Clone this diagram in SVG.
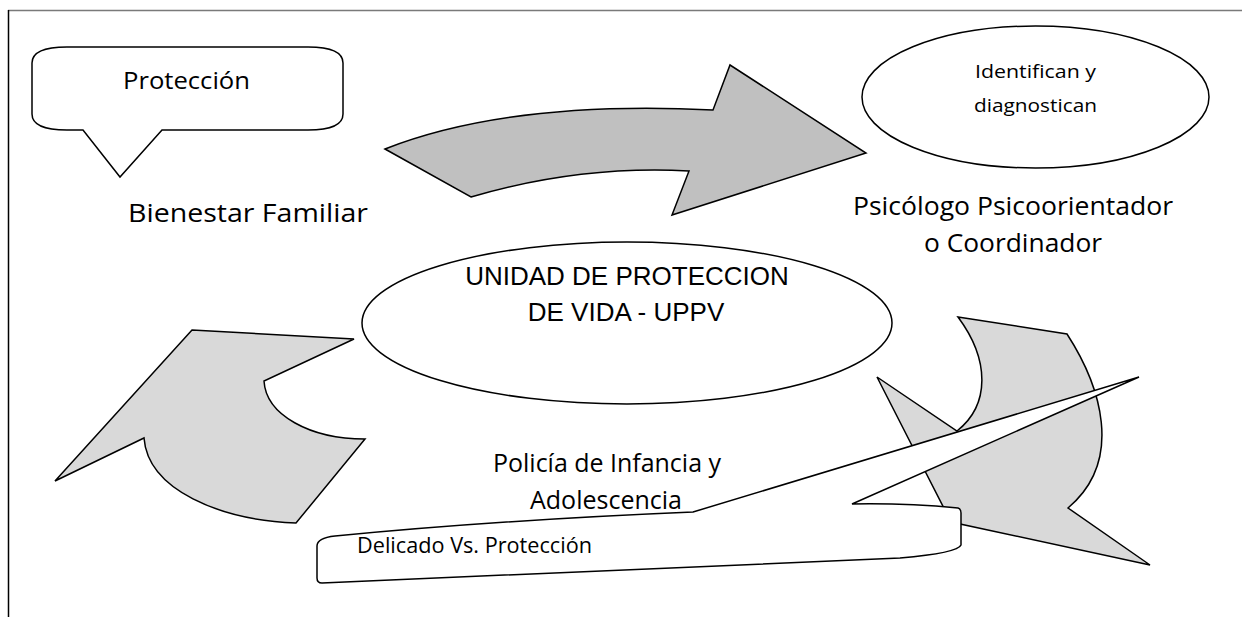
<svg xmlns="http://www.w3.org/2000/svg" width="1242" height="618" viewBox="0 0 1242 618">
<style>
.frameTop{stroke:#7a7a7a;stroke-width:1.5;fill:none}
.frameLeft{stroke:#000;stroke-width:1.5;fill:none}
.shape{fill:#fff;stroke:#000;stroke-width:1.5;stroke-linejoin:miter}
.arrowDark{fill:#c0c0c0;stroke:#000;stroke-width:1.5}
.arrowLight{fill:#d9d9d9;stroke:#000;stroke-width:1.5}
.t{font-family:"Open Sans","Noto Sans","Liberation Sans",sans-serif;fill:#000}
.a{font-family:"Liberation Sans",Arial,sans-serif;fill:#000}
</style>
<rect width="1242" height="618" fill="#fff"/>
<g id="frame">
<line class="frameTop" x1="8" y1="10.5" x2="1242" y2="10.5"/>
<line class="frameLeft" x1="8.5" y1="10" x2="8.5" y2="617"/>
</g>
<g id="connectors">
<path class="arrowDark" d="M385,149 Q510,100 713,110 L730,65 L866,153 L672,215 L689,171 Q580,165 471,197 Z"/>
<path class="arrowLight" d="M192,330 L354,339 L264,381 C266,415 310,439 365,439 L296,523 C220,520 148,490 144,438 L55,481 Z"/>
<path class="arrowLight" d="M958,317 L1067,334 C1100,385 1125,460 1068,508 L1150,565 L951,522 L877,377 L957,431 C990,405 990,360 958,317 Z"/>
</g>
<g id="bubble-proteccion">
<path class="shape" d="M67,47 L308,47 Q343,47 343,63 L343,114 Q343,130 308,130 L162,130 L120,177 L83,130 L67,130 Q32,130 32,114 L32,63 Q32,47 67,47 Z"/>
<text class="t" x="123" y="89" font-size="24" textLength="127" lengthAdjust="spacingAndGlyphs">Protección</text>
</g>
<g id="bienestar">
<text class="t" x="128" y="222" font-size="26" textLength="240" lengthAdjust="spacingAndGlyphs">Bienestar Familiar</text>
</g>
<g id="identifican">
<ellipse class="shape" cx="1035.5" cy="97" rx="173.5" ry="71"/>
<text class="t" x="975" y="78" font-size="19" textLength="121" lengthAdjust="spacingAndGlyphs">Identifican y</text>
<text class="t" x="974" y="112" font-size="19" textLength="123" lengthAdjust="spacingAndGlyphs">diagnostican</text>
</g>
<g id="psicologo">
<text class="t" x="853" y="215" font-size="25" textLength="320" lengthAdjust="spacingAndGlyphs">Psicólogo Psicoorientador</text>
<text class="t" x="924" y="252" font-size="25" textLength="178" lengthAdjust="spacingAndGlyphs">o Coordinador</text>
</g>
<g id="uppv">
<ellipse class="shape" cx="627" cy="323" rx="265" ry="81"/>
<text class="a" x="627" y="285" font-size="26" text-anchor="middle">UNIDAD DE PROTECCION</text>
<text class="a" x="626" y="321" font-size="26" text-anchor="middle">DE VIDA - UPPV</text>
</g>
<g id="scroll-delicado">
<path class="shape" d="M693,512 L1139,377 L852,504 Q905,503 958,508 Q961,509 961,513 L961,545 Q958,553 900,558 L322,583 Q317,583 317,578 L317,546 Q317,538 335,536 Q500,520 693,512 Z"/>
<text class="t" x="357" y="553" font-size="21" textLength="235" lengthAdjust="spacingAndGlyphs">Delicado Vs. Protección</text>
</g>
<g id="policia">
<text class="t" x="493" y="472" font-size="25" textLength="228" lengthAdjust="spacingAndGlyphs">Policía de Infancia y</text>
<text class="t" x="530" y="509" font-size="25" textLength="152" lengthAdjust="spacingAndGlyphs">Adolescencia</text>
</g>
</svg>
